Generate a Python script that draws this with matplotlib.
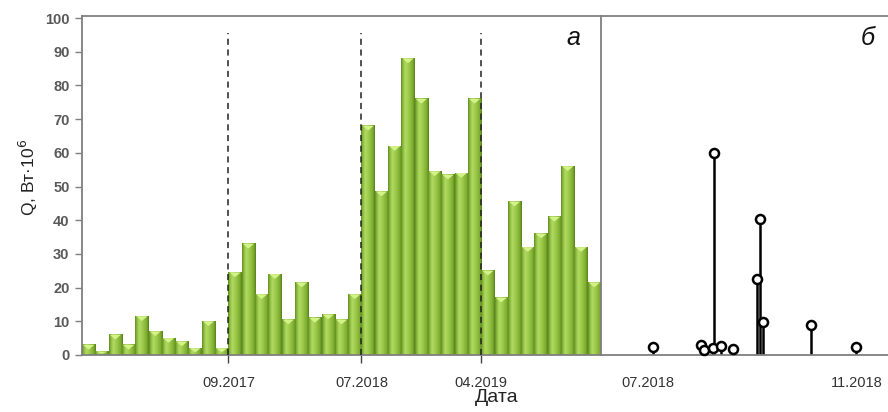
import numpy as np
import matplotlib
matplotlib.use("Agg")
import matplotlib.pyplot as plt
from matplotlib.colors import LinearSegmentedColormap
from matplotlib.patches import Polygon

plt.rcParams['font.family'] = ['Liberation Sans', 'DejaVu Sans']

# ---- data: panel а (monthly heat flux) ----
q_monthly = [3, 1, 6, 3, 11.5, 7, 5, 4, 2, 10, 2,
             24.5, 33, 18, 24, 10.5, 21.5, 11, 12, 10.5, 18,
             68, 48.5, 62, 88, 76, 54.5, 53.5, 54, 76,
             25, 17, 45.5, 32, 36, 41, 56, 32, 21.5]
period_ticks = ["09.2017", "07.2018", "04.2019"]
period_bounds = [11, 21, 30]   # bar index where each new period starts

# ---- data: panel б (individual events) ----
event_dates = ["2018-07-04", "2018-08-01", "2018-08-03", "2018-08-08", "2018-08-09",
               "2018-08-13", "2018-08-20", "2018-09-03", "2018-09-05", "2018-09-07",
               "2018-10-05", "2018-11-01"]
event_q = [2.3, 3, 1.5, 2, 60, 2.7, 1.7, 22.5, 40.5, 9.7, 8.9, 2.3]
b_ticks = ["2018-07-01", "2018-11-01"]
b_ticklabels = ["07.2018", "11.2018"]

W, H = 888, 412
fig = plt.figure(figsize=(W / 100, H / 100), dpi=100)

def rect(x0, x1, ytop, ybot):
    return [x0 / W, 1 - ybot / H, (x1 - x0) / W, (ybot - ytop) / H]

ax1 = fig.add_axes(rect(82, 601, 16, 355))
ax2 = fig.add_axes(rect(601, 892, 16, 355))

spine_col = '#7f7f7f'
tick_col = '#595959'

# gradient bars
cmap = LinearSegmentedColormap.from_list(
    'bar', [(0.0, '#5f8c22'), (0.1, '#82b236'), (0.3, '#b2da64'),
            (0.55, '#9dca4a'), (0.85, '#7dac30'), (1.0, '#587f1c')])
grad = np.linspace(0, 1, 64).reshape(1, -1)
bw = 1.0
for i, v in enumerate(q_monthly):
    x0, x1 = i - bw / 2, i + bw / 2
    ax1.imshow(grad, extent=(x0, x1, 0, v), aspect='auto', cmap=cmap,
               interpolation='bilinear', zorder=2)
    d = min(1.4, v * 0.6)
    ax1.add_patch(Polygon([(x0 + 0.08, v), (x1 - 0.08, v), (i, v - d)],
                          closed=True, facecolor='#d4f28a', edgecolor='none',
                          zorder=3))
ax1.set_xlim(-0.5, len(q_monthly) - 0.5)
ax1.set_ylim(0, 100.6)

# dashed period separators
bpos = [b - 0.5 for b in period_bounds]
for xb in bpos:
    ax1.plot([xb, xb], [0, 95.5], color='#222222', lw=1.1,
             dashes=(4, 3), zorder=4)
ax1.set_xticks(bpos)
ax1.set_xticklabels(period_ticks)
ax1.set_yticks(np.arange(0, 101, 10))
ax1.tick_params(axis='y', colors=spine_col, labelcolor=tick_col, labelsize=10.5,
                length=5, width=1, pad=4)
ax1.tick_params(axis='x', colors='#444444', labelcolor='#333333', labelsize=10.5,
                length=6, width=1, pad=9, direction='out')
for lbl in ax1.get_yticklabels():
    lbl.set_fontweight('bold')
ax1.spines['right'].set_visible(False)
for s in ['left', 'bottom', 'top']:
    ax1.spines[s].set_color(spine_col)
    ax1.spines[s].set_linewidth(1.3)

# panel б
dts = np.array(event_dates, dtype='datetime64[D]')
ax2.vlines(dts, 0, event_q, color='black', lw=1.8, zorder=2)
ax2.plot(dts, event_q, 'o', mfc='white', mec='black', ms=6.5, mew=1.8,
         zorder=3, clip_on=False)
x_left = np.datetime64("2018-06-03")
x_right = np.datetime64("2018-11-22")
ax2.set_xlim(x_left, x_right)
ax2.set_ylim(0, 100.6)
ax2.set_yticks([])
ax2.set_xticks(np.array(b_ticks, dtype='datetime64[D]'))
ax2.set_xticklabels(b_ticklabels)
ax2.tick_params(axis='x', length=0, pad=15, labelsize=10.5, labelcolor='#333333')
ax2.spines['right'].set_visible(False)
for s in ['left', 'bottom', 'top']:
    ax2.spines[s].set_color(spine_col)
    ax2.spines[s].set_linewidth(1.3)

# labels
fig.text(28 / W, 1 - 177 / H, 'Q, Вт·10$^6$', rotation=90, ha='center',
         va='center', fontsize=12.5, color='#222222')
fig.text(497 / W, 1 - 397 / H, 'Дата', ha='center', va='center',
         fontsize=14, color='#222222')
fig.text(573 / W, 1 - 38 / H, 'а', ha='center', va='center', fontsize=18,
         style='italic', color='#111111')
fig.text(868 / W, 1 - 38 / H, 'б', ha='center', va='center', fontsize=18,
         style='italic', color='#111111')

fig.savefig('out.png', dpi=100)
